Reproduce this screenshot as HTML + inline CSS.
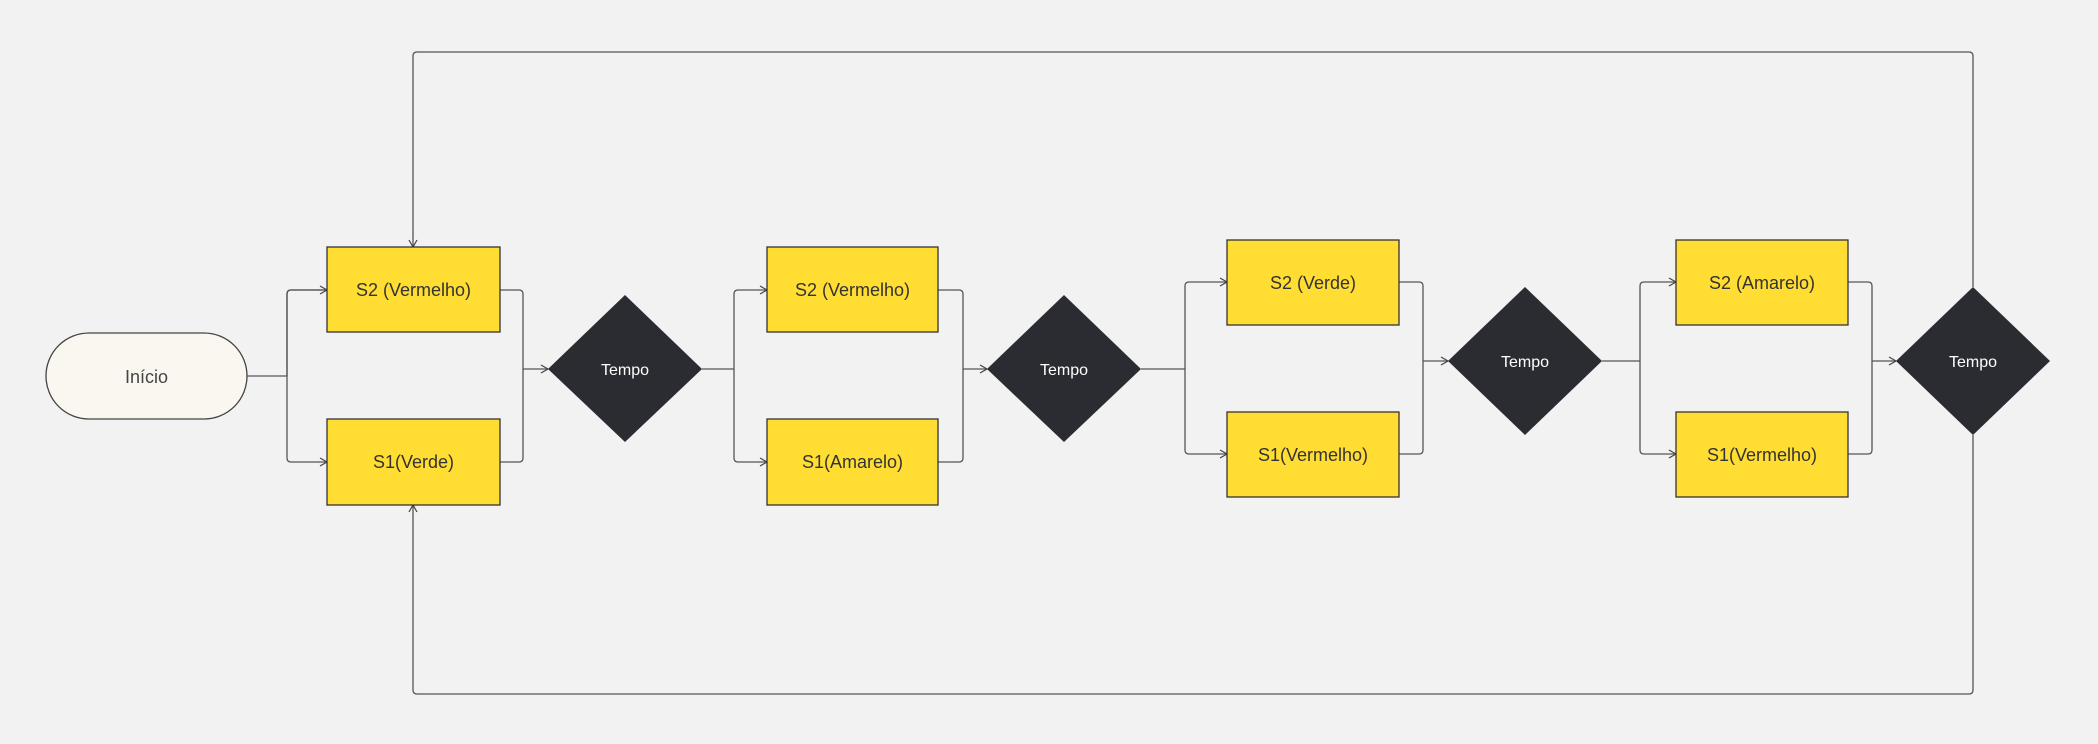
<!DOCTYPE html>
<html><head><meta charset="utf-8"><style>
html,body{margin:0;padding:0;background:#f2f2f2;}
svg{display:block;}
text{font-family:"Liberation Sans",sans-serif;}
</style></head><body>
<svg width="2098" height="744" viewBox="0 0 2098 744" xmlns="http://www.w3.org/2000/svg">
<defs>
<marker id="a" markerWidth="10" markerHeight="10" refX="8" refY="5" orient="auto" markerUnits="userSpaceOnUse">
<path d="M1,1 L8,5 L1,9" fill="none" stroke="#444" stroke-width="1.2"/>
</marker>
</defs>
<rect width="2098" height="744" fill="#f2f2f2"/>
<g fill="none" stroke="#555" stroke-width="1.3">
<!-- start to branch1 -->
<path d="M247 376 H287"/>
<path d="M327 290 H291 Q287 290 287 294 V458 Q287 462 291 462 H327" marker-end="url(#a)"/>
<path d="M287 376 V294 Q287 290 291 290 H327" marker-end="url(#a)"/>
<!-- merge1 -->
<path d="M500 290 H519 Q523 290 523 294 V458 Q523 462 519 462 H500"/>
<path d="M523 369 H548" marker-end="url(#a)"/>
<!-- branch2 -->
<path d="M702 369 H734"/>
<path d="M734 369 V294 Q734 290 738 290 H767" marker-end="url(#a)"/>
<path d="M734 369 V458 Q734 462 738 462 H767" marker-end="url(#a)"/>
<!-- merge2 -->
<path d="M938 290 H959 Q963 290 963 294 V458 Q963 462 959 462 H938"/>
<path d="M963 369 H987" marker-end="url(#a)"/>
<!-- branch3 -->
<path d="M1141 369 H1185"/>
<path d="M1185 369 V286 Q1185 282 1189 282 H1227" marker-end="url(#a)"/>
<path d="M1185 369 V450 Q1185 454 1189 454 H1227" marker-end="url(#a)"/>
<!-- merge3 -->
<path d="M1399 282 H1419 Q1423 282 1423 286 V450 Q1423 454 1419 454 H1399"/>
<path d="M1423 361 H1448" marker-end="url(#a)"/>
<!-- branch4 -->
<path d="M1602 361 H1640"/>
<path d="M1640 361 V286 Q1640 282 1644 282 H1676" marker-end="url(#a)"/>
<path d="M1640 361 V450 Q1640 454 1644 454 H1676" marker-end="url(#a)"/>
<!-- merge4 -->
<path d="M1848 282 H1868 Q1872 282 1872 286 V450 Q1872 454 1868 454 H1848"/>
<path d="M1872 361 H1896" marker-end="url(#a)"/>
<!-- loops -->
<path d="M1973 287 V56 Q1973 52 1969 52 H417 Q413 52 413 56 V247" marker-end="url(#a)"/>
<path d="M1973 435 V690 Q1973 694 1969 694 H417 Q413 694 413 690 V505" marker-end="url(#a)"/>
</g>
<!-- start -->
<rect x="46" y="333" width="201" height="86" rx="43" fill="#faf7f0" stroke="#444" stroke-width="1.3"/>
<text x="146.5" y="383" font-size="18" fill="#444" text-anchor="middle">Início</text>
<g fill="#ffdd33" stroke="#333" stroke-width="1.3">
<rect x="327" y="247" width="173" height="85"/>
<rect x="327" y="419" width="173" height="86"/>
<rect x="767" y="247" width="171" height="85"/>
<rect x="767" y="419" width="171" height="86"/>
<rect x="1227" y="240" width="172" height="85"/>
<rect x="1227" y="412" width="172" height="85"/>
<rect x="1676" y="240" width="172" height="85"/>
<rect x="1676" y="412" width="172" height="85"/>
</g>
<g font-size="18" fill="#333" text-anchor="middle">
<text x="413.5" y="296">S2 (Vermelho)</text>
<text x="413.5" y="468">S1(Verde)</text>
<text x="852.5" y="296">S2 (Vermelho)</text>
<text x="852.5" y="468">S1(Amarelo)</text>
<text x="1313" y="289">S2 (Verde)</text>
<text x="1313" y="461">S1(Vermelho)</text>
<text x="1762" y="289">S2 (Amarelo)</text>
<text x="1762" y="461">S1(Vermelho)</text>
</g>
<g fill="#2b2c31">
<polygon points="625,295 702,369 625,442 548,369"/>
<polygon points="1064,295 1141,369 1064,442 987,369"/>
<polygon points="1525,287 1602,361 1525,435 1448,361"/>
<polygon points="1973,287 2050,361 1973,435 1896,361"/>
</g>
<g font-size="16" fill="#fff" text-anchor="middle">
<text x="625" y="375">Tempo</text>
<text x="1064" y="375">Tempo</text>
<text x="1525" y="367">Tempo</text>
<text x="1973" y="367">Tempo</text>
</g>
</svg>
</body></html>
